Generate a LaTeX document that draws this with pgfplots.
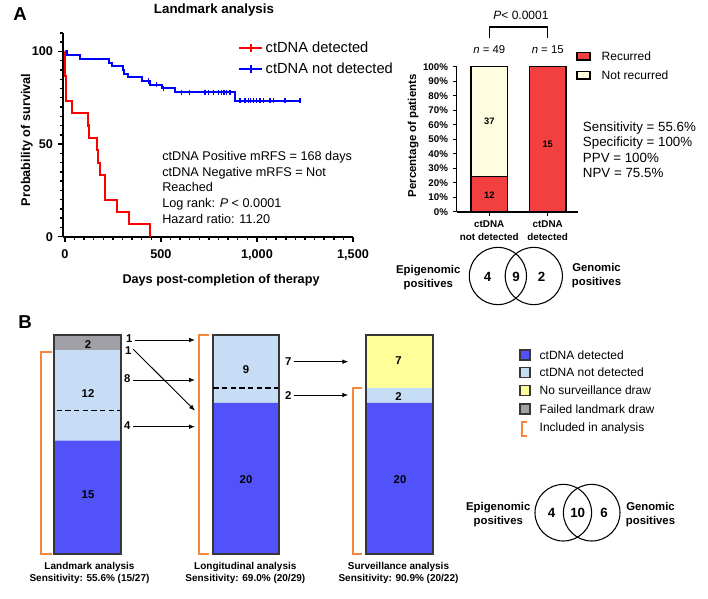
\documentclass[border=0pt]{standalone}
\usepackage{fontspec}
\setmainfont{Liberation Sans}
\usepackage{pgfplots}
\pgfplotsset{compat=1.18}
\usetikzlibrary{arrows.meta}

\definecolor{kmred}{RGB}{255,0,0}
\definecolor{kmblue}{RGB}{0,0,255}
\definecolor{recred}{RGB}{242,64,64}
\definecolor{cream}{RGB}{255,253,224}
\definecolor{detblue}{RGB}{82,82,250}
\definecolor{ndblue}{RGB}{198,221,245}
\definecolor{nodraw}{RGB}{255,255,153}
\definecolor{failgrey}{RGB}{160,160,166}
\definecolor{incl}{RGB}{245,135,60}
\definecolor{edgegrey}{RGB}{55,55,55}

\tikzset{barnum/.style={font=\bfseries\fontsize{8.5}{10}\selectfont}}

\begin{document}
\begin{tikzpicture}[x=0.75pt,y=-0.75pt]
\path[use as bounding box] (0,0) rectangle (708,599);

% ---- A: Kaplan-Meier, landmark analysis
\begin{axis}[
  at={(47.25pt,-177.5pt)}, anchor=south west,
  scale only axis, width=217.5pt, height=152.8pt,
  xmin=-10, xmax=1500, ymin=0, ymax=110,
  axis x line*=bottom, axis y line*=left,
  axis line style={line width=1.5pt},
  tick align=outside, major tick length=4pt, minor tick length=2.5pt,
  tick style={black, line width=1.1pt},
  xtick={0,500,1000,1500}, xticklabels={0,500,{1,000},{1,500}},
  minor xtick={50,100,...,1450},
  ytick={0,50,100}, yticklabels={0,50,100},
  minor ytick={5,10,...,110},
  ticklabel style={font=\bfseries\fontsize{9.5}{11}\selectfont},
  xticklabel style={yshift=-2pt},
  xlabel={Days post-completion of therapy},
  ylabel={Probability of survival},
  label style={font=\bfseries\fontsize{9.5}{11}\selectfont},
  xlabel style={at={(axis description cs:0.545,-0.2126)}, anchor=center},
  ylabel style={at={(axis description cs:-0.125,0.475)}, anchor=center},
  legend style={at={(axis description cs:0.603,0.97)}, anchor=north west,
    draw=none, fill=none, inner sep=0pt, row sep=2pt,
    font=\fontsize{11}{13}\selectfont},
  legend cell align=left,
  clip=false,
]
\addplot[const plot, kmblue, line width=1.5pt, forget plot] coordinates {
  (0,100) (9,98.0) (81,96.0) (231,94.0) (243,92.0) (300,90.0) (307,88.0)
  (330,86.0) (399,84.0) (443,82.0) (503,80.0) (573,78.0) (885,73.5) (1224,73.5)};
\addplot[only marks, kmblue, mark=|, mark size=2pt, mark options={line width=1pt}, forget plot] coordinates {
  (434,84.0) (477,82.0) (512,80.0) (608,78.0) (648,78.0) (729,78.0) (747,78.0)
  (773,78.0) (799,78.0) (816,78.0) (828,78.0) (842,78.0) (859,78.0)
  (911,73.5) (937,73.5) (955,73.5) (967,73.5) (981,73.5) (998,73.5) (1016,73.5)
  (1033,73.5) (1068,73.5) (1085,73.5) (1146,73.5) (1224,73.5)};
\addplot[const plot, kmred, line width=1.6pt, forget plot] coordinates {
  (0,100) (1,93.3) (2,86.7) (4,80) (6,73.3) (38,66.7) (121,60) (124,53.3)
  (166,46.7) (174,40) (182,33.3) (208,20) (272,13.3) (335,6.7) (443,0)};
\addlegendimage{kmred, line width=1.6pt, mark=|, mark size=3pt}
\addlegendentry{ctDNA detected}
\addlegendimage{kmblue, line width=1.6pt, mark=|, mark size=3pt}
\addlegendentry{ctDNA not detected}
\end{axis}

% ---- A: recurrence by landmark ctDNA status
\begin{axis}[
  at={(342.5pt,-158.8pt)}, anchor=south west,
  scale only axis, width=91pt, height=108.75pt,
  ybar stacked, bar width=0.628,
  xmin=-0.558, xmax=1.519, ymin=0, ymax=100,
  axis x line*=bottom, axis y line*=left,
  axis line style={line width=1.2pt},
  tick align=outside, major tick length=3pt,
  tick style={black, line width=1pt},
  xtick={0,1}, xticklabels={{ctDNA\\not detected},{ctDNA\\detected}},
  xticklabel style={align=center, font=\bfseries\fontsize{7.4}{10}\selectfont},
  ytick={0,10,...,100},
  yticklabels={0\%,10\%,20\%,30\%,40\%,50\%,60\%,70\%,80\%,90\%,100\%},
  yticklabel style={font=\bfseries\fontsize{7.3}{8}\selectfont},
  ylabel={Percentage of patients},
  ylabel style={at={(axis description cs:-0.358,0.523)}, anchor=center,
    font=\bfseries\fontsize{8.6}{10}\selectfont},
  clip=false,
]
\addplot[fill=recred, draw=black, line width=1pt] coordinates {(0,24.49) (1,100)};
\addplot[fill=cream, draw=black, line width=1pt] coordinates {(0,75.51) (1,0)};
\end{axis}
\node[font=\bfseries\fontsize{7}{8}\selectfont] at (489.3,195) {12};
\node[font=\bfseries\fontsize{7}{8}\selectfont] at (489.3,121.7) {37};
\node[font=\bfseries\fontsize{7}{8}\selectfont] at (547.7,144) {15};

% ---- B: stacked patient bars (heights in patients, x in pixels)
\begin{axis}[
  at={(0pt,-415.5pt)}, anchor=south west,
  scale only axis, width=531pt, height=164.25pt,
  xmin=0, xmax=708, ymin=0, ymax=29,
  hide axis, ybar stacked, bar width=66.5, clip=false,
]
\addplot[fill=detblue, draw=none] coordinates {(87.5,15) (246,20) (399.7,20)};
\addplot[fill=ndblue, draw=none] coordinates {(87.5,12) (246,9) (399.7,2)};
\addplot[fill=nodraw, draw=none] coordinates {(87.5,0) (246,0) (399.7,7)};
\addplot[fill=failgrey, draw=none] coordinates {(87.5,2) (246,0) (399.7,0)};
\end{axis}
% outline of each bar, with the dashed split lines and counts
\begin{axis}[
  at={(0pt,-415.5pt)}, anchor=south west,
  scale only axis, width=531pt, height=164.25pt,
  xmin=0, xmax=708, ymin=0, ymax=29,
  hide axis, ybar, bar width=66.5, clip=false,
]
\addplot[fill=none, draw=edgegrey, line width=1.5pt] coordinates {(87.5,29) (246,29) (399.7,29)};
\draw[line width=1pt, dash pattern=on 4pt off 2.5pt] (axis cs:56.7,19) -- (axis cs:120,19);
\draw[line width=1pt, dash pattern=on 4pt off 2.5pt] (axis cs:213.3,22) -- (axis cs:278.3,22);
\node[barnum] at (axis cs:88,27.8) {2};
\node[barnum] at (axis cs:88,21.2) {12};
\node[barnum] at (axis cs:88,7.8) {15};
\node[barnum] at (axis cs:246,24.4) {9};
\node[barnum] at (axis cs:246,9.8) {20};
\node[barnum] at (axis cs:398.5,25.6) {7};
\node[barnum] at (axis cs:398.5,20.9) {2};
\node[barnum] at (axis cs:400,9.9) {20};
\end{axis}

% ---- annotations (pixel coordinates)
\node[font=\bfseries\fontsize{14}{16}\selectfont] at (20,14) {A};
\node[font=\bfseries\fontsize{10}{12}\selectfont] at (214,10) {Landmark analysis};
\node[anchor=north west, align=left, inner sep=0pt, font=\fontsize{9.5}{11.8}\selectfont] at (162,151)
  {ctDNA Positive mRFS = 168 days\\ctDNA Negative mRFS = Not\\Reached\\Log rank: \textit{P} < 0.0001\\Hazard ratio: 11.20};

\node[font=\fontsize{9}{11}\selectfont] at (521,15) {\textit{P}< 0.0001};
\draw[line width=0.9pt] (489.3,38.5) -- (489.3,27) -- (547.7,27) -- (547.7,38.5);
\node[font=\fontsize{8.5}{10}\selectfont] at (489.3,50) {\textit{n} = 49};
\node[font=\fontsize{8.5}{10}\selectfont] at (547.7,50) {\textit{n} = 15};
\draw[fill=recred, line width=0.8pt] (577,52.5) rectangle (590,60);
\node[anchor=west, font=\fontsize{9}{11}\selectfont] at (597,56.3) {Recurred};
\draw[fill=cream, line width=0.8pt] (577,71.5) rectangle (590,79);
\node[anchor=west, font=\fontsize{9}{11}\selectfont] at (597,75.3) {Not recurred};
\node[anchor=north west, align=left, inner sep=0pt, font=\fontsize{10}{11.6}\selectfont] at (582.7,121.2)
  {Sensitivity = 55.6\%\\Specificity = 100\%\\PPV = 100\%\\NPV = 75.5\%};

\draw[line width=0.8pt] (497.9,276) circle (28.6);
\draw[line width=0.8pt] (533.8,276) circle (28.6);
\node[font=\bfseries\fontsize{10}{12}\selectfont] at (487.7,276.5) {4};
\node[font=\bfseries\fontsize{10}{12}\selectfont] at (516,276.5) {9};
\node[font=\bfseries\fontsize{10}{12}\selectfont] at (541.7,276.5) {2};
\node[align=center, font=\bfseries\fontsize{8.5}{10.5}\selectfont] at (428.3,278) {Epigenomic\\positives};
\node[align=center, font=\bfseries\fontsize{8.5}{10.5}\selectfont] at (596.5,276) {Genomic\\positives};

\node[font=\bfseries\fontsize{14}{16}\selectfont] at (25,322) {B};
\draw[incl, line width=1.5pt] (51.7,351.7) -- (41,351.7) -- (41,554) -- (51.7,554);
\draw[incl, line width=1.5pt] (209,335) -- (198.5,335) -- (198.5,554) -- (209,554);
\draw[incl, line width=1.5pt] (362,388.3) -- (352.5,388.3) -- (352.5,554) -- (362,554);
\draw[-{Latex[length=4.5pt,width=3.5pt]}, line width=0.7pt] (135,340) -- (195,340);
\draw[-{Latex[length=4.5pt,width=3.5pt]}, line width=0.7pt] (133.3,349.3) -- (195,410.7);
\draw[-{Latex[length=4.5pt,width=3.5pt]}, line width=0.7pt] (133.3,380) -- (195,380);
\draw[-{Latex[length=4.5pt,width=3.5pt]}, line width=0.7pt] (133.3,426.7) -- (195,426.7);
\draw[-{Latex[length=4.5pt,width=3.5pt]}, line width=0.7pt] (294,361.7) -- (348.3,361.7);
\draw[-{Latex[length=4.5pt,width=3.5pt]}, line width=0.7pt] (294,395) -- (348.3,395);
\node[barnum] at (129.3,338.5) {1};
\node[barnum] at (128.3,350.5) {1};
\node[barnum] at (127.3,378.5) {8};
\node[barnum] at (127.3,426) {4};
\node[barnum] at (288.3,361.7) {7};
\node[barnum] at (288.3,395.5) {2};
\node[align=center, font=\bfseries\fontsize{7.5}{9.5}\selectfont] at (89.5,573) {Landmark analysis\\Sensitivity: 55.6\% (15/27)};
\node[align=center, font=\bfseries\fontsize{7.5}{9.5}\selectfont] at (245.3,573) {Longitudinal analysis\\Sensitivity: 69.0\% (20/29)};
\node[align=center, font=\bfseries\fontsize{7.5}{9.5}\selectfont] at (398.5,573) {Surveillance analysis\\Sensitivity: 90.9\% (20/22)};

% legend B
\draw[fill=detblue, draw=edgegrey, line width=1pt] (520,350) rectangle (530,360);
\draw[fill=ndblue, draw=edgegrey, line width=1pt] (520,367.7) rectangle (530,377.7);
\draw[fill=nodraw, draw=edgegrey, line width=1pt] (520,385.7) rectangle (530,395.7);
\draw[fill=failgrey, draw=edgegrey, line width=1pt] (520,404) rectangle (530,414);
\draw[incl, line width=1.5pt] (526.5,422) -- (521.5,422) -- (521.5,436) -- (526.5,436);
\node[anchor=west, font=\fontsize{9}{11}\selectfont] at (535,355) {ctDNA detected};
\node[anchor=west, font=\fontsize{9}{11}\selectfont] at (535,372.7) {ctDNA not detected};
\node[anchor=west, font=\fontsize{9}{11}\selectfont] at (535,390.7) {No surveillance draw};
\node[anchor=west, font=\fontsize{9}{11}\selectfont] at (535,409) {Failed landmark draw};
\node[anchor=west, font=\fontsize{9}{11}\selectfont] at (535,428) {Included in analysis};

\draw[line width=0.8pt] (563.3,512.7) circle (28.3);
\draw[line width=0.8pt] (591.7,512.7) circle (28.3);
\node[font=\bfseries\fontsize{10}{12}\selectfont] at (551.7,513.3) {4};
\node[font=\bfseries\fontsize{10}{12}\selectfont] at (577.7,513.3) {10};
\node[font=\bfseries\fontsize{10}{12}\selectfont] at (604,513.3) {6};
\node[align=center, font=\bfseries\fontsize{8.5}{10.5}\selectfont] at (498.3,515) {Epigenomic\\positives};
\node[align=center, font=\bfseries\fontsize{8.5}{10.5}\selectfont] at (650.5,515) {Genomic\\positives};
\end{tikzpicture}
\end{document}
